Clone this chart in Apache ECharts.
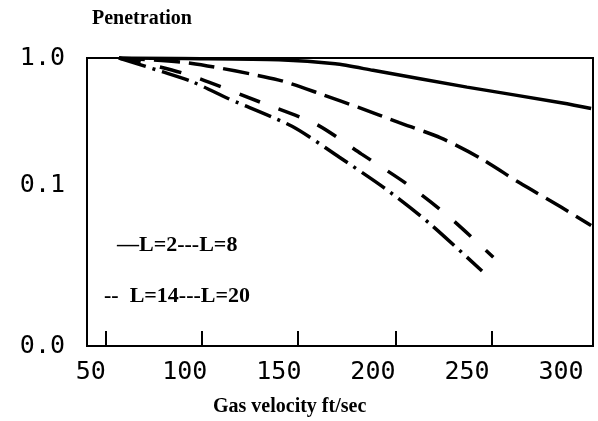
<!DOCTYPE html>
<html>
<head>
<meta charset="utf-8">
<script src="https://cdn.jsdelivr.net/npm/echarts@6/dist/echarts.min.js"></script>
<style>
  html, body { margin: 0; padding: 0; background: #fff; }
  #chart { width: 598px; height: 421px; }
</style>
</head>
<body>
<div id="chart"></div>
<script>
// velocity (ft/sec) and penetration
const velocityL2 = [65, 100, 150, 180, 200, 250, 300, 316];
const penetrationL2 = [1.0, 0.99, 0.97, 0.9, 0.8, 0.59, 0.445, 0.4];

const velocityL8 = [65, 103, 150, 174, 192, 214, 236, 257, 278, 300, 316];
const penetrationL8 = [1.0, 0.91, 0.67, 0.51, 0.41, 0.31, 0.235, 0.163, 0.104, 0.067, 0.048];

const velocityL14 = [65, 80, 103, 140, 170, 194, 218, 240, 264];
const penetrationL14 = [1.0, 0.9, 0.73, 0.45, 0.3, 0.175, 0.102, 0.057, 0.027];

const velocityL20 = [65, 88, 104, 123, 157, 182, 206, 230, 258];
const penetrationL20 = [1.0, 0.78, 0.65, 0.48, 0.29, 0.166, 0.095, 0.05, 0.021];

// axis labels / ticks
const xLabelValues = [50, 100, 150, 200, 250, 300];
const xTickValues = [58, 109, 160, 212, 263];
const yMin = 0.0054;
const yLabelValues = [1, 0.1, yMin];
const yLabelText = ['1.0', '0.1', '0.0'];

const chart = echarts.init(document.getElementById('chart'));

const pairs = (xs, ys) => xs.map((x, i) => [x, ys[i]]);

const lineSeries = (name, xs, ys, type, width) => ({
  name: name,
  type: 'line',
  data: pairs(xs, ys),
  smooth: 0.25,
  showSymbol: false,
  lineStyle: { color: '#000', width: width, type: type, cap: 'butt' }
});

const options = {
  animation: false,
  backgroundColor: '#fff',
  grid: {
    left: 87, right: 5, top: 58, bottom: 75,
    show: true, borderColor: '#000', borderWidth: 2,
    outerBoundsMode: 'none'
  },
  xAxis: {
    type: 'value',
    min: 48,
    max: 317,
    axisLine: { lineStyle: { color: '#000', width: 2 } },
    axisTick: {
      show: true, inside: true, length: 15,
      customValues: xTickValues,
      lineStyle: { color: '#000', width: 2 }
    },
    axisLabel: {
      customValues: xLabelValues,
      color: '#000',
      fontFamily: 'DejaVu Sans Mono',
      fontSize: 25,
      margin: 14
    },
    splitLine: { show: false }
  },
  yAxis: {
    type: 'log',
    logBase: 10,
    min: yMin,
    max: 1,
    axisLine: { show: true, lineStyle: { color: '#000', width: 2 } },
    axisTick: { show: false },
    axisLabel: {
      customValues: yLabelValues,
      formatter: (v) => {
        const i = yLabelValues.findIndex((t) => Math.abs(t - v) / t < 1e-6);
        return i >= 0 ? yLabelText[i] : '';
      },
      color: '#000',
      fontFamily: 'DejaVu Sans Mono',
      fontSize: 25,
      margin: 22
    },
    splitLine: { show: false },
    minorSplitLine: { show: false }
  },
  graphic: [
    {
      type: 'text', left: 92, top: 9,
      style: { text: 'Penetration', font: 'bold 20px "Liberation Serif"', fill: '#000' }
    },
    {
      type: 'text', left: 213, top: 397,
      style: { text: 'Gas velocity ft/sec', font: 'bold 20px "Liberation Serif"', fill: '#000' }
    },
    {
      type: 'text', left: 117, top: 234,
      style: { text: '\u2014L=2---L=8', font: 'bold 22px "Liberation Serif"', fill: '#000' }
    },
    {
      type: 'text', left: 104, top: 285,
      style: { text: '--  L=14---L=20', font: 'bold 22px "Liberation Serif"', fill: '#000' }
    }
  ],
  series: [
    lineSeries('L=2', velocityL2, penetrationL2, 'solid', 3.5),
    lineSeries('L=8', velocityL8, penetrationL8, [26, 9], 3.5),
    lineSeries('L=14', velocityL14, penetrationL14, [22, 20], 3.5),
    lineSeries('L=20', velocityL20, penetrationL20, [28, 7, 3, 7], 3.5)
  ]
};

chart.setOption(options);
</script>
</body>
</html>
